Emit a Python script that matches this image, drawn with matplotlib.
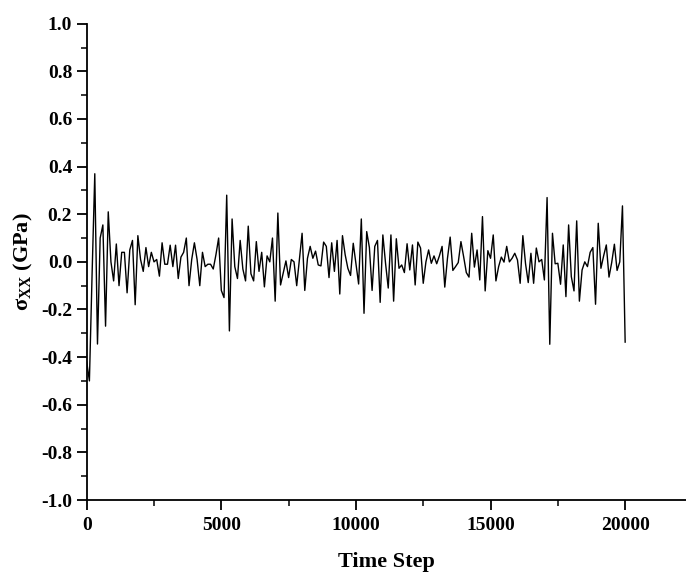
import numpy as np
import matplotlib
matplotlib.use("Agg")
import matplotlib.pyplot as plt
from matplotlib.ticker import MultipleLocator

plt.rcParams['font.family'] = ['Liberation Serif', 'DejaVu Serif']
plt.rcParams['font.weight'] = 'bold'
plt.rcParams['mathtext.fontset'] = 'custom'
plt.rcParams['mathtext.rm'] = 'Liberation Serif:bold'
plt.rcParams['mathtext.it'] = 'Liberation Serif:bold'
plt.rcParams['mathtext.bf'] = 'Liberation Serif:bold'

# time steps, every 100 steps from 0 to 20000
time_step = np.arange(0, 20001, 100)

# sigma_xx (GPa)
sigma_xx = [
    -0.42, -0.50, -0.05, 0.37, -0.345, 0.10, 0.155, -0.27, 0.21, 0.0,
    -0.08, 0.075, -0.10, 0.04, 0.04, -0.13, 0.05, 0.09, -0.18, 0.11,
    0.01, -0.04, 0.06, -0.02, 0.04, 0.0, 0.01, -0.06, 0.08, -0.01,
    -0.01, 0.07, -0.02, 0.07, -0.07, 0.02, 0.04, 0.10, -0.10, 0.01,
    0.08, 0.01, -0.10, 0.04, -0.02, -0.01, -0.01, -0.03, 0.03, 0.10,
    -0.12, -0.15, 0.28, -0.29, 0.18, -0.02, -0.07, 0.09, -0.03, -0.08,
    0.15, -0.05, -0.08, 0.085, -0.04, 0.04, -0.105, 0.025, 0.0, 0.10,
    -0.165, 0.205, -0.097, -0.047, 0.004, -0.066, 0.01, 0.0, -0.10, 0.01,
    0.12, -0.12, 0.015, 0.065, 0.015, 0.045, -0.013, -0.017, 0.083, 0.065,
    -0.066, 0.08, -0.04, 0.09, -0.135, 0.11, 0.03, -0.027, -0.057, 0.078,
    -0.006, -0.093, 0.18, -0.216, 0.127, 0.06, -0.12, 0.065, 0.09, -0.17,
    0.113, -0.006, -0.11, 0.113, -0.165, 0.097, -0.027, -0.013, -0.045, 0.076,
    -0.034, 0.071, -0.097, 0.083, 0.058, -0.09, 0.0, 0.05, -0.006, 0.025,
    -0.008, 0.025, 0.065, -0.106, 0.015, 0.104, -0.036, -0.02, -0.003, 0.085,
    0.022, -0.045, -0.064, 0.12, -0.022, 0.05, -0.076, 0.19, -0.122, 0.047,
    0.015, 0.113, -0.08, -0.02, 0.02, -0.001, 0.065, 0.0, 0.015, 0.036,
    0.008, -0.09, 0.11, -0.008, -0.087, 0.036, -0.09, 0.058, 0.0, 0.01,
    -0.076, 0.27, -0.346, 0.12, -0.008, -0.006, -0.094, 0.071, -0.146, 0.155,
    -0.062, -0.122, 0.172, -0.165, -0.034, 0.0, -0.02, 0.04, 0.06, -0.178,
    0.162, -0.027, 0.025, 0.071, -0.064, -0.003, 0.074, -0.036, 0.0, 0.235,
    -0.337,
]

fig = plt.figure(figsize=(6.86, 5.75), dpi=100)
ax = fig.add_axes([0.1264, 0.1304, 0.8736, 0.8284])

ax.plot(time_step, sigma_xx, color='black', linewidth=1.0)

ax.set_xlim(0, 22260)
ax.set_ylim(-1.0, 1.0)
ax.xaxis.set_major_locator(MultipleLocator(5000))
ax.xaxis.set_minor_locator(MultipleLocator(2500))
ax.yaxis.set_major_locator(MultipleLocator(0.2))
ax.yaxis.set_minor_locator(MultipleLocator(0.1))
ax.yaxis.set_major_formatter(plt.FuncFormatter(lambda v, p: f"{v:.1f}"))

for s in ['top', 'right']:
    ax.spines[s].set_visible(False)
for s in ['left', 'bottom']:
    ax.spines[s].set_linewidth(1.3)

ax.tick_params(which='major', direction='out', length=7, width=1.3, labelsize=14)
ax.tick_params(axis='x', which='major', pad=5)
ax.tick_params(which='minor', direction='out', length=4, width=1.1)

ax.set_xlabel("Time Step", fontsize=16, fontweight='bold', labelpad=13)
ax.set_ylabel(r"$\sigma_{XX}$ (GPa)", fontsize=16, fontweight='bold', labelpad=4)

fig.savefig("out.png", dpi=100)
